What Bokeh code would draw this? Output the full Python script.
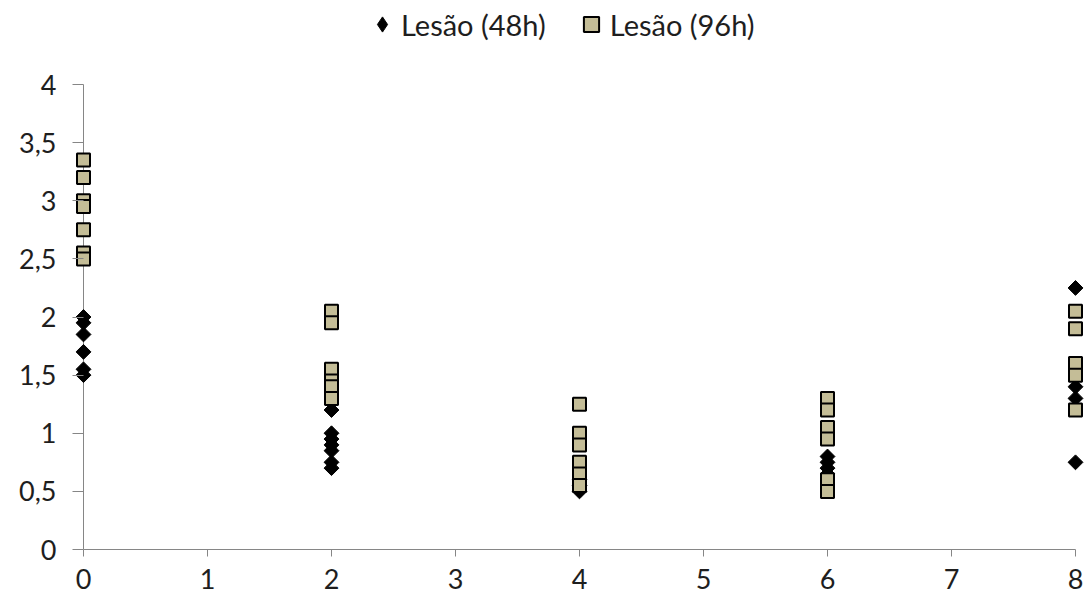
from math import pi

from bokeh.embed import file_html
from bokeh.models import FixedTicker, Legend, LegendItem, Range1d
from bokeh.plotting import figure
from bokeh.resources import INLINE

# Lesion scores by time point, 48 h reading
lesao_48_x = [0, 0, 0, 0, 0, 0,
              2, 2, 2, 2, 2, 2, 2,
              4, 4, 4,
              6, 6, 6, 6,
              8, 8, 8, 8]
lesao_48_y = [2.0, 1.95, 1.85, 1.7, 1.55, 1.5,
              1.2, 1.0, 0.95, 0.9, 0.85, 0.75, 0.7,
              0.5, 0.55, 0.6,
              0.8, 0.75, 0.7, 0.65,
              2.25, 1.4, 1.3, 0.75]

# Lesion scores by time point, 96 h reading
lesao_96_x = [0, 0, 0, 0, 0, 0, 0,
              2, 2, 2, 2, 2, 2,
              4, 4, 4, 4, 4, 4,
              6, 6, 6, 6, 6, 6,
              8, 8, 8, 8, 8]
lesao_96_y = [3.35, 3.2, 3.0, 2.95, 2.75, 2.55, 2.5,
              2.05, 1.95, 1.55, 1.45, 1.4, 1.3,
              1.25, 1.0, 0.9, 0.75, 0.65, 0.55,
              1.3, 1.2, 1.05, 0.95, 0.6, 0.5,
              2.05, 1.9, 1.6, 1.5, 1.2]

x_ticks = [0, 1, 2, 3, 4, 5, 6, 7, 8]
y_ticks = [0, 0.5, 1, 1.5, 2, 2.5, 3, 3.5, 4]
y_tick_labels = ["0", "0,5", "1", "1,5", "2", "2,5", "3", "3,5", "4"]
series_labels = ["Lesão (48h)", "Lesão (96h)"]

FONT = "Lato"
TEXT = "#1e1e1e"
AXIS_GREY = "#868686"
TAN = "#C4BD97"

# pixels per unit on each axis
X_PX = 124
Y_PX = 116.25

# a little room either side of 0 and 8 so edge markers are not cut off,
# and head room above 4 for the legend
pad = 10 / X_PX
head = 84 / Y_PX

p = figure(width=1085, height=601, output_backend="svg", toolbar_location=None,
           x_range=Range1d(x_ticks[0] - pad, x_ticks[-1] + pad),
           y_range=Range1d(y_ticks[0], y_ticks[-1] + head),
           min_border_left=73, min_border_right=0,
           min_border_top=0, min_border_bottom=52)
p.outline_line_color = None
p.grid.visible = False
p.background_fill_color = "white"
p.border_fill_color = "white"

# vertical axis line at x = 0, from 0 up to 4
p.segment(x0=[x_ticks[0]], y0=[y_ticks[0]], x1=[x_ticks[0]], y1=[y_ticks[-1]],
          line_color=AXIS_GREY, line_width=1)

# upright diamonds for the 48 h legend key; each one sits fully under
# the turned square drawn on top of it
key48 = p.scatter(lesao_48_x, lesao_48_y, marker="diamond", size=12,
                  fill_color="black", line_color="black", line_width=1)
r48 = p.scatter(lesao_48_x, lesao_48_y, marker="square", angle=pi / 4, size=10.5,
                fill_color="black", line_color="black", line_width=1)
r96 = p.scatter(lesao_96_x, lesao_96_y, marker="square", size=13,
                fill_color=TAN, line_color="black", line_width=2)

xaxis = p.xaxis[0]
xaxis.bounds = (x_ticks[0], x_ticks[-1])
xaxis.ticker = FixedTicker(ticks=x_ticks)
xaxis.axis_line_color = AXIS_GREY
xaxis.major_tick_line_color = AXIS_GREY
xaxis.major_tick_in = 0
xaxis.major_tick_out = 7
xaxis.minor_tick_line_color = None
xaxis.major_label_text_font = FONT
xaxis.major_label_text_font_size = "27px"
xaxis.major_label_text_color = TEXT
xaxis.major_label_standoff = 12

yaxis = p.yaxis[0]
yaxis.bounds = (y_ticks[0], y_ticks[-1])
yaxis.ticker = FixedTicker(ticks=y_ticks)
yaxis.major_label_overrides = dict(zip(y_ticks, y_tick_labels))
yaxis.axis_line_color = None
yaxis.major_tick_line_color = AXIS_GREY
yaxis.major_tick_in = 10
yaxis.major_tick_out = 1
yaxis.minor_tick_line_color = None
yaxis.major_label_text_font = FONT
yaxis.major_label_text_font_size = "27px"
yaxis.major_label_text_color = TEXT
yaxis.major_label_standoff = 16

legend = Legend(
    items=[LegendItem(label=series_labels[0], renderers=[key48]),
           LegendItem(label=series_labels[1], renderers=[r96])],
    orientation="horizontal", location=(290, 506),
    border_line_color=None, background_fill_alpha=0,
    label_text_font=FONT, label_text_font_size="29px", label_text_color=TEXT,
    glyph_width=38, glyph_height=38, padding=0, margin=0, spacing=26, label_standoff=0,
)
p.add_layout(legend)

open("out.html", "w").write(file_html(p, INLINE))
